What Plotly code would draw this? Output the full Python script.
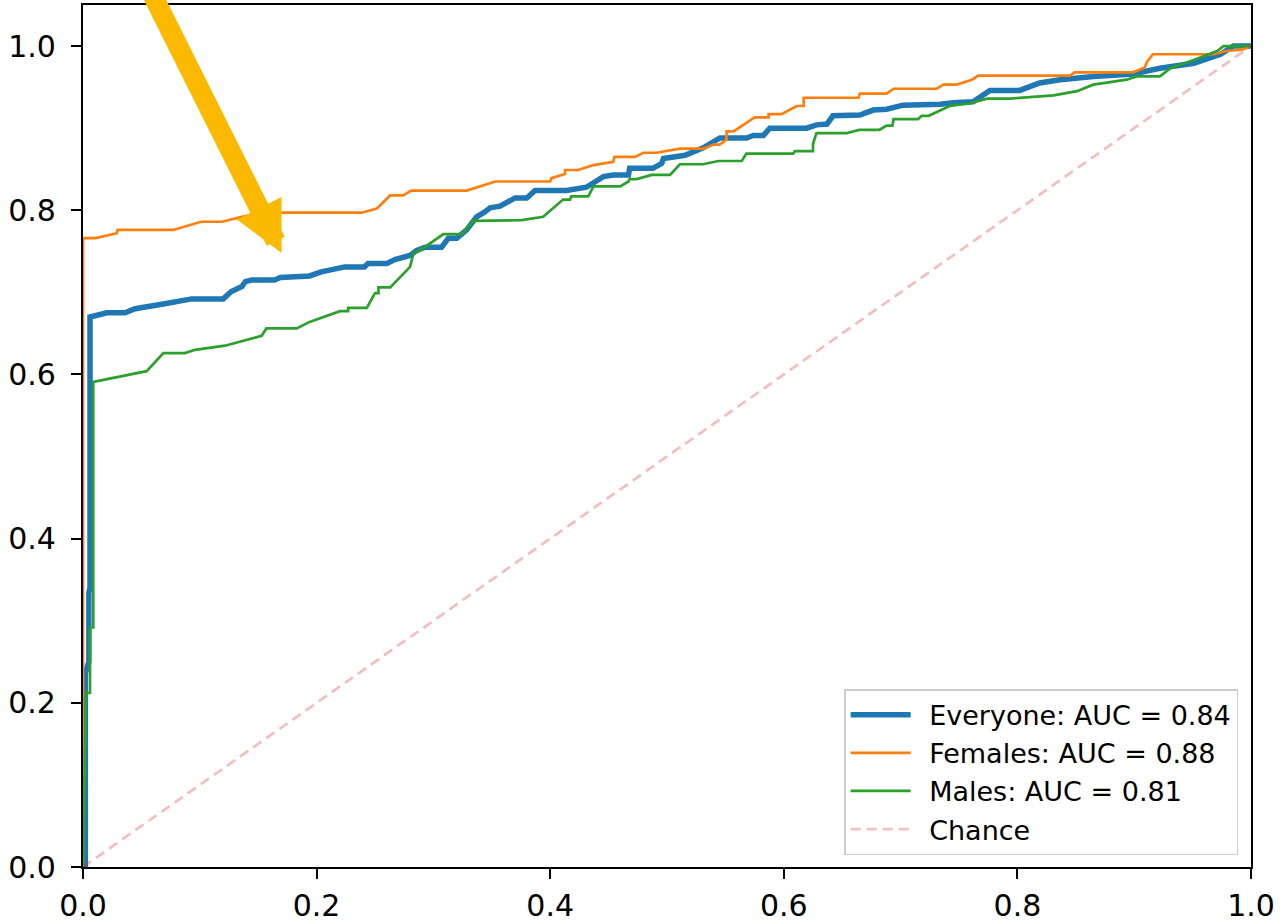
import plotly.graph_objects as go

# ---- data ----
everyone_fpr = [0.0, 0.002, 0.002, 0.005, 0.005, 0.006, 0.006, 0.0146, 0.0203, 0.036, 0.0445, 0.070, 0.0845,
                0.093, 0.120, 0.127, 0.136, 0.139, 0.1444, 0.164, 0.169, 0.194, 0.204, 0.224, 0.241, 0.244,
                0.260, 0.267, 0.280, 0.2857, 0.293, 0.307, 0.3128, 0.320, 0.3285, 0.337, 0.344, 0.3485, 0.357,
                0.370, 0.380, 0.387, 0.414, 0.431, 0.4455, 0.454, 0.467, 0.468, 0.488, 0.4955, 0.497, 0.5154,
                0.531, 0.540, 0.5454, 0.568, 0.574, 0.5825, 0.588, 0.6196, 0.628, 0.637, 0.642, 0.665, 0.6766,
                0.688, 0.702, 0.734, 0.745, 0.762, 0.774, 0.7765, 0.802, 0.819, 0.8365, 0.865, 0.899, 0.922,
                0.951, 0.974, 0.985, 1.0]
everyone_tpr = [0.0, 0.0, 0.236, 0.25, 0.334, 0.34, 0.670, 0.672, 0.675, 0.675, 0.680, 0.686, 0.690,
                0.692, 0.692, 0.701, 0.707, 0.713, 0.715, 0.715, 0.718, 0.720, 0.725, 0.731, 0.731, 0.735,
                0.735, 0.740, 0.745, 0.751, 0.755, 0.755, 0.766, 0.766, 0.776, 0.792, 0.798, 0.803, 0.805,
                0.815, 0.815, 0.824, 0.824, 0.828, 0.841, 0.843, 0.843, 0.851, 0.851, 0.857, 0.863, 0.867,
                0.876, 0.883, 0.888, 0.888, 0.891, 0.891, 0.900, 0.900, 0.904, 0.905, 0.915, 0.916, 0.922,
                0.923, 0.928, 0.929, 0.931, 0.932, 0.942, 0.946, 0.946, 0.955, 0.959, 0.963, 0.966, 0.973,
                0.979, 0.990, 1.0, 1.0]

female_fpr = [0.0, 0.0, 0.0109, 0.0289, 0.0297, 0.0773, 0.101, 0.119, 0.136, 0.152, 0.170, 0.2386, 0.2515,
              0.263, 0.274, 0.281, 0.3285, 0.353, 0.400, 0.401, 0.4127, 0.4127, 0.424, 0.437, 0.454, 0.455,
              0.4726, 0.4797, 0.491, 0.511, 0.531, 0.540, 0.545, 0.551, 0.551, 0.557, 0.575, 0.587, 0.587,
              0.598, 0.611, 0.617, 0.617, 0.664, 0.665, 0.688, 0.694, 0.731, 0.7366, 0.748, 0.761, 0.7666,
              0.845, 0.849, 0.899, 0.909, 0.911, 0.916, 0.968, 0.979, 0.993, 1.0]
female_tpr = [0.0, 0.766, 0.766, 0.772, 0.776, 0.776, 0.786, 0.786, 0.792, 0.796, 0.797, 0.797, 0.802,
              0.818, 0.818, 0.824, 0.824, 0.835, 0.835, 0.839, 0.844, 0.849, 0.849, 0.855, 0.859, 0.865,
              0.865, 0.870, 0.870, 0.875, 0.875, 0.880, 0.880, 0.886, 0.896, 0.896, 0.913, 0.913, 0.917,
              0.917, 0.927, 0.927, 0.937, 0.937, 0.942, 0.942, 0.948, 0.948, 0.953, 0.953, 0.959, 0.964,
              0.964, 0.968, 0.968, 0.974, 0.981, 0.990, 0.990, 0.994, 0.996, 1.0]

male_fpr = [0.0, 0.002, 0.002, 0.006, 0.006, 0.0088, 0.0088, 0.0545, 0.0688, 0.0873, 0.0959, 0.1216, 0.153,
            0.157, 0.183, 0.194, 0.220, 0.227, 0.227, 0.243, 0.250, 0.253, 0.253, 0.263, 0.280, 0.283,
            0.2885, 0.3085, 0.324, 0.334, 0.3756, 0.394, 0.411, 0.417, 0.418, 0.4326, 0.437, 0.460, 0.467,
            0.468, 0.474, 0.487, 0.5026, 0.511, 0.531, 0.544, 0.564, 0.568, 0.608, 0.6096, 0.625, 0.625,
            0.628, 0.654, 0.665, 0.682, 0.688, 0.693, 0.694, 0.715, 0.718, 0.724, 0.742, 0.759, 0.774,
            0.794, 0.831, 0.851, 0.865, 0.876, 0.8936, 0.902, 0.922, 0.931, 0.951, 0.971, 0.9765, 1.0]
male_tpr = [0.0, 0.155, 0.212, 0.212, 0.292, 0.292, 0.591, 0.604, 0.626, 0.626, 0.630, 0.635, 0.647,
            0.656, 0.656, 0.664, 0.677, 0.677, 0.681, 0.681, 0.699, 0.699, 0.706, 0.706, 0.731, 0.748,
            0.751, 0.771, 0.771, 0.787, 0.788, 0.792, 0.813, 0.813, 0.817, 0.817, 0.829, 0.829, 0.835,
            0.838, 0.838, 0.843, 0.843, 0.856, 0.856, 0.860, 0.860, 0.869, 0.869, 0.872, 0.872, 0.881,
            0.894, 0.894, 0.898, 0.898, 0.903, 0.903, 0.911, 0.911, 0.915, 0.915, 0.927, 0.930, 0.936,
            0.936, 0.940, 0.945, 0.953, 0.955, 0.959, 0.963, 0.963, 0.973, 0.983, 0.994, 1.0, 1.0]

chance_x = [0.0, 1.0]
chance_y = [0.0, 1.0]

labels = ["Everyone: AUC = 0.84", "Females: AUC = 0.88", "Males: AUC = 0.81", "Chance"]
tick_vals = [0.0, 0.2, 0.4, 0.6, 0.8, 1.0]
tick_text = ["0.0", "0.2", "0.4", "0.6", "0.8", "1.0"]
arrow_tip = (0.170, 0.748)
arrow_tail = (0.040, 1.118)

FONT = "DejaVu Sans"
GAP = "\u2002"  # visual gap between legend line sample and its label

fig = go.Figure()
fig.add_trace(go.Scatter(x=everyone_fpr, y=everyone_tpr, mode="lines", name=GAP + labels[0],
                         line=dict(color="#1f77b4", width=5.5)))
fig.add_trace(go.Scatter(x=female_fpr, y=female_tpr, mode="lines", name=GAP + labels[1],
                         line=dict(color="#ff7f0e", width=2.7)))
fig.add_trace(go.Scatter(x=male_fpr, y=male_tpr, mode="lines", name=GAP + labels[2],
                         line=dict(color="#2ca02c", width=2.7)))
fig.add_trace(go.Scatter(x=chance_x, y=chance_y, mode="lines", name=GAP + labels[3],
                         line=dict(color="rgba(214,39,40,0.3)", width=2.7, dash="10px,6px")))

fig.add_annotation(x=arrow_tip[0], y=arrow_tip[1], xref="x", yref="y",
                   ax=arrow_tail[0], ay=arrow_tail[1], axref="x", ayref="y",
                   text="", showarrow=True,
                   arrowhead=2, arrowsize=0.5, arrowwidth=20, arrowcolor="#FBB900")

axis_common = dict(showline=True, mirror=True, linecolor="black", linewidth=2.2,
                   ticks="outside", ticklen=10, tickwidth=2.2, tickcolor="black",
                   showgrid=False, zeroline=False, tickvals=tick_vals, ticktext=tick_text,
                   automargin=False,
                   tickfont=dict(family=FONT, size=30, color="black"))

fig.update_xaxes(range=[0, 1], ticklabelstandoff=1, **axis_common)
fig.update_yaxes(range=[0, 1.05], ticklabelstandoff=9, **axis_common)

fig.update_layout(
    width=1281, height=922,
    margin=dict(l=83, r=30, t=5, b=55),
    plot_bgcolor="white", paper_bgcolor="white",
    font=dict(family=FONT, color="black"),
    legend=dict(x=0.989, y=0.0137, xanchor="right", yanchor="bottom",
                bgcolor="rgba(255,255,255,0.8)", bordercolor="#cccccc", borderwidth=1.5,
                itemwidth=60,
                font=dict(family=FONT, size=27, color="black")),
)

fig.write_html("out.html", config={"displayModeBar": False},
               post_script="document.body.style.margin='0';")
